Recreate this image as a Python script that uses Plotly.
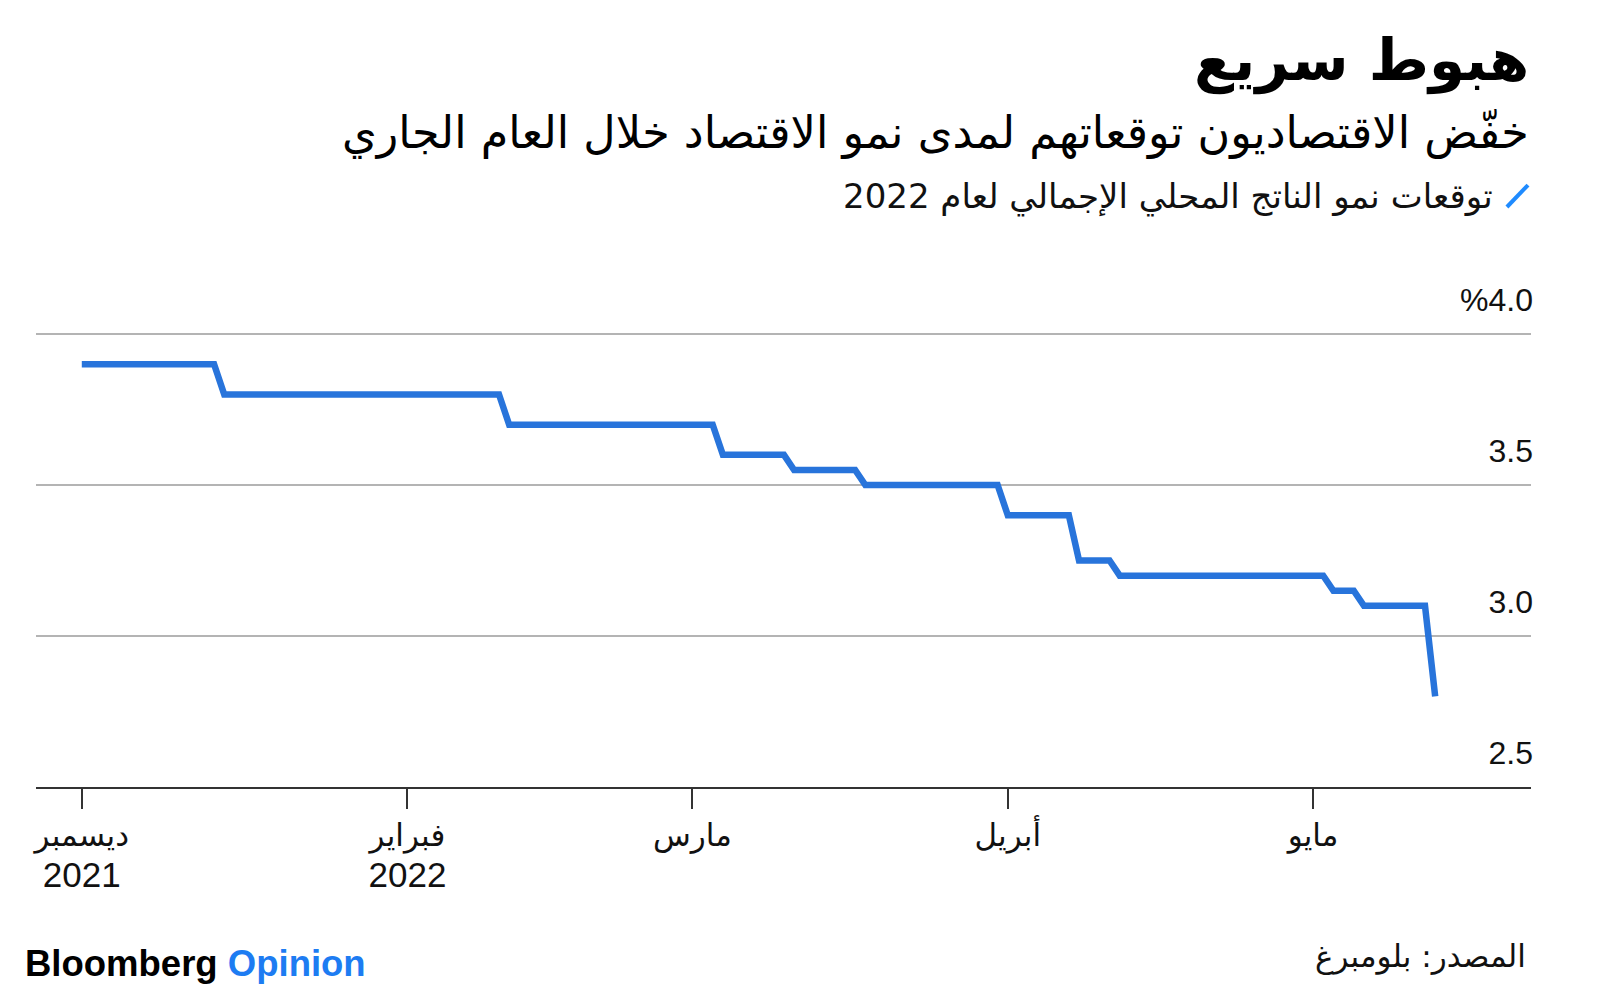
import plotly.graph_objects as go

# ---- data ----
dates = ["2021-12-31", "2022-01-13", "2022-01-14", "2022-02-10", "2022-02-11",
         "2022-03-03", "2022-03-04", "2022-03-10", "2022-03-11", "2022-03-17",
         "2022-03-18", "2022-03-31", "2022-04-01", "2022-04-07", "2022-04-08",
         "2022-04-11", "2022-04-12", "2022-05-02", "2022-05-03", "2022-05-05",
         "2022-05-06", "2022-05-12", "2022-05-13"]
gdp_forecast = [3.9, 3.9, 3.8, 3.8, 3.7,
                3.7, 3.6, 3.6, 3.55, 3.55,
                3.5, 3.5, 3.4, 3.4, 3.25,
                3.25, 3.2, 3.2, 3.15, 3.15,
                3.1, 3.1, 2.8]

x_tick_vals = ["2021-12-31", "2022-02-01", "2022-03-01", "2022-04-01", "2022-05-01"]
x_tick_months = ["ديسمبر", "فبراير", "مارس", "أبريل", "مايو"]
x_tick_years = ["2021", "2022", "", "", ""]
y_tick_vals = [2.5, 3.0, 3.5, 4.0]
y_tick_text = ["2.5", "3.0", "3.5", "%4.0"]

title = "هبوط سريع"
subtitle = "خفّض الاقتصاديون توقعاتهم لمدى نمو الاقتصاد خلال العام الجاري"
series_name = "توقعات نمو الناتج المحلي الإجمالي لعام 2022"
source = "المصدر: بلومبرغ"

LINE_BLUE = "#2874db"
ARABIC = "DejaVu Sans"
LATIN = "Liberation Sans, Arial, DejaVu Sans"

x_tick_text = [
    m + ("<br><span style='font-size:35px'>" + y + "</span>" if y else "")
    for m, y in zip(x_tick_months, x_tick_years)
]

fig = go.Figure()
fig.add_trace(go.Scatter(
    x=dates, y=gdp_forecast, mode="lines", name=series_name,
    line=dict(color=LINE_BLUE, width=6.5),
    showlegend=False, hoverinfo="x+y",
))

fig.update_layout(
    width=1600, height=1003, autosize=False,
    margin=dict(l=36, r=69, t=319, b=216, pad=0),
    paper_bgcolor="white", plot_bgcolor="white",
    xaxis=dict(
        type="date",
        range=["2021-12-26 12:00", "2022-05-22 10:00"],
        tickmode="array", tickvals=x_tick_vals, ticktext=x_tick_text,
        ticks="outside", ticklen=20, tickwidth=2, tickcolor="#333333",
        showline=True, linecolor="#333333", linewidth=2,
        showgrid=False, zeroline=False,
        tickfont=dict(family=LATIN, size=31, color="#111111"),
        fixedrange=True,
    ),
    yaxis=dict(
        side="right",
        range=[2.5, 4.05],
        tickmode="array", tickvals=y_tick_vals, ticktext=y_tick_text,
        ticks="", showline=False, zeroline=False,
        showgrid=True, gridcolor="#b4b4b4", gridwidth=2,
        ticklabelposition="inside",
        ticklabeloverflow="allow",
        ticklabelshift=-34,
        ticklabelstandoff=-5,
        tickfont=dict(family=LATIN, size=32, color="#111111"),
        fixedrange=True,
    ),
    annotations=[
        dict(text="<b>" + title + "</b>", xref="paper", yref="paper",
             x=1.0, y=1.553, xanchor="right", yanchor="middle", showarrow=False,
             font=dict(family=ARABIC, size=58, color="#000000")),
        dict(text=subtitle, xref="paper", yref="paper",
             x=1.0, y=1.397, xanchor="right", yanchor="middle", showarrow=False,
             font=dict(family=ARABIC, size=44.5, color="#000000")),
        dict(text=series_name, xref="paper", yref="paper",
             x=0.9759, y=1.2628, xanchor="right", yanchor="middle", showarrow=False,
             font=dict(family=ARABIC, size=34, color="#111111")),
        dict(text="<b>Bloomberg</b> <b><span style='color:#1d7cf2'>Opinion</span></b>",
             xref="paper", yref="paper",
             x=-0.009, y=-0.378, xanchor="left", yanchor="middle", showarrow=False,
             font=dict(family=LATIN, size=36.5, color="#000000")),
        dict(text=source, xref="paper", yref="paper",
             x=0.998, y=-0.363, xanchor="right", yanchor="middle", showarrow=False,
             font=dict(family=ARABIC, size=31, color="#111111")),
    ],
    shapes=[
        dict(type="line", xref="paper", yref="paper",
             x0=0.9839, y0=1.2393, x1=0.998, y1=1.2863,
             line=dict(color="#1f8bff", width=4)),
    ],
)

fig.write_html("out.html")
